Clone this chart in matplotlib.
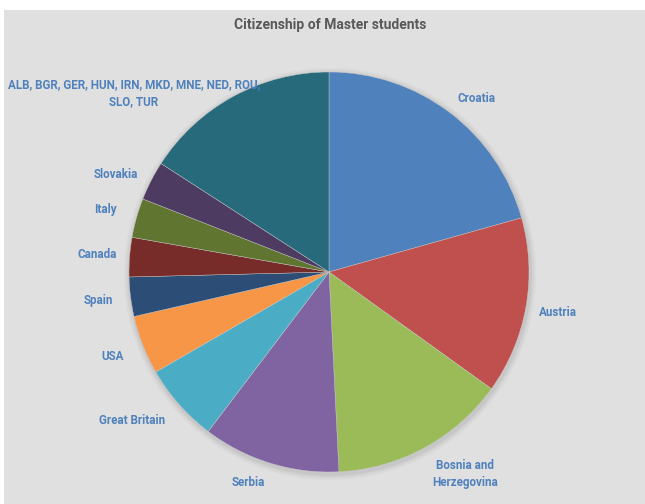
import matplotlib
matplotlib.use('Agg')
import matplotlib.pyplot as plt
from matplotlib.patches import Rectangle, Circle

# данные
countries = ['Croatia', 'Austria', 'Bosnia and\nHerzegovina', 'Serbia', 'Great Britain',
             'USA', 'Spain', 'Canada', 'Italy', 'Slovakia',
             'ALB, BGR, GER, HUN, IRN, MKD, MNE, NED, ROU,\nSLO, TUR']
students = [13, 9, 9, 7, 4, 3, 2, 2, 2, 2, 10]
colors = ['#4F81BD', '#C0504D', '#9BBB59', '#8064A2', '#4BACC6', '#F79646',
          '#2C4D75', '#772C2A', '#5F7530', '#4D3B62', '#276A7C']

W, H = 645, 504
fig = plt.figure(figsize=(W / 100, H / 100), dpi=100, facecolor='white')
ax = fig.add_axes([0, 0, 1, 1])

# серый фон области диаграммы
ax.add_patch(Rectangle((4, 0), W - 4, H - 10, facecolor='#E0E0E0', edgecolor='none', zorder=0))

cx, cy, r = 329, H - 272, 200

# мягкая тень вокруг круга
for k, a in zip([6, 4, 2], [0.08, 0.12, 0.18]):
    ax.add_patch(Circle((cx + 1, cy - 2), r + k, facecolor='#9a9a9a', edgecolor='none',
                        alpha=a, zorder=1))

wedges, texts = ax.pie(students, labels=countries, colors=colors, startangle=90,
                       counterclock=False, center=(cx, cy), radius=r, labeldistance=1.16,
                       wedgeprops=dict(linewidth=0.3, edgecolor='#c8c8c8', zorder=2),
                       textprops=dict(color='#4F81BD', fontsize=8.4, fontweight='bold',
                                      family='Roboto', linespacing=1.45),
                       frame=True)
ax.set_xlim(0, W)
ax.set_ylim(0, H)
ax.set_aspect('equal')
ax.axis('off')

for t in texts:
    t.set_ha('center')
    t.set_va('center')
    t.set_multialignment('center')

# подписи, которые Excel сдвинул
texts[0].set_position((477, H - 99))
texts[2].set_position((465, H - 474))
texts[3].set_position((248, H - 483))
texts[4].set_position((132, H - 420))
texts[9].set_position((116, H - 174))
texts[-1].set_position((134, H - 93))

ax.text(330, H - 25, 'Citizenship of Master students', ha='center', va='center',
        fontsize=10, fontweight='bold', color='#595959', family='Roboto')

fig.savefig('out.png', dpi=100, facecolor='white')
